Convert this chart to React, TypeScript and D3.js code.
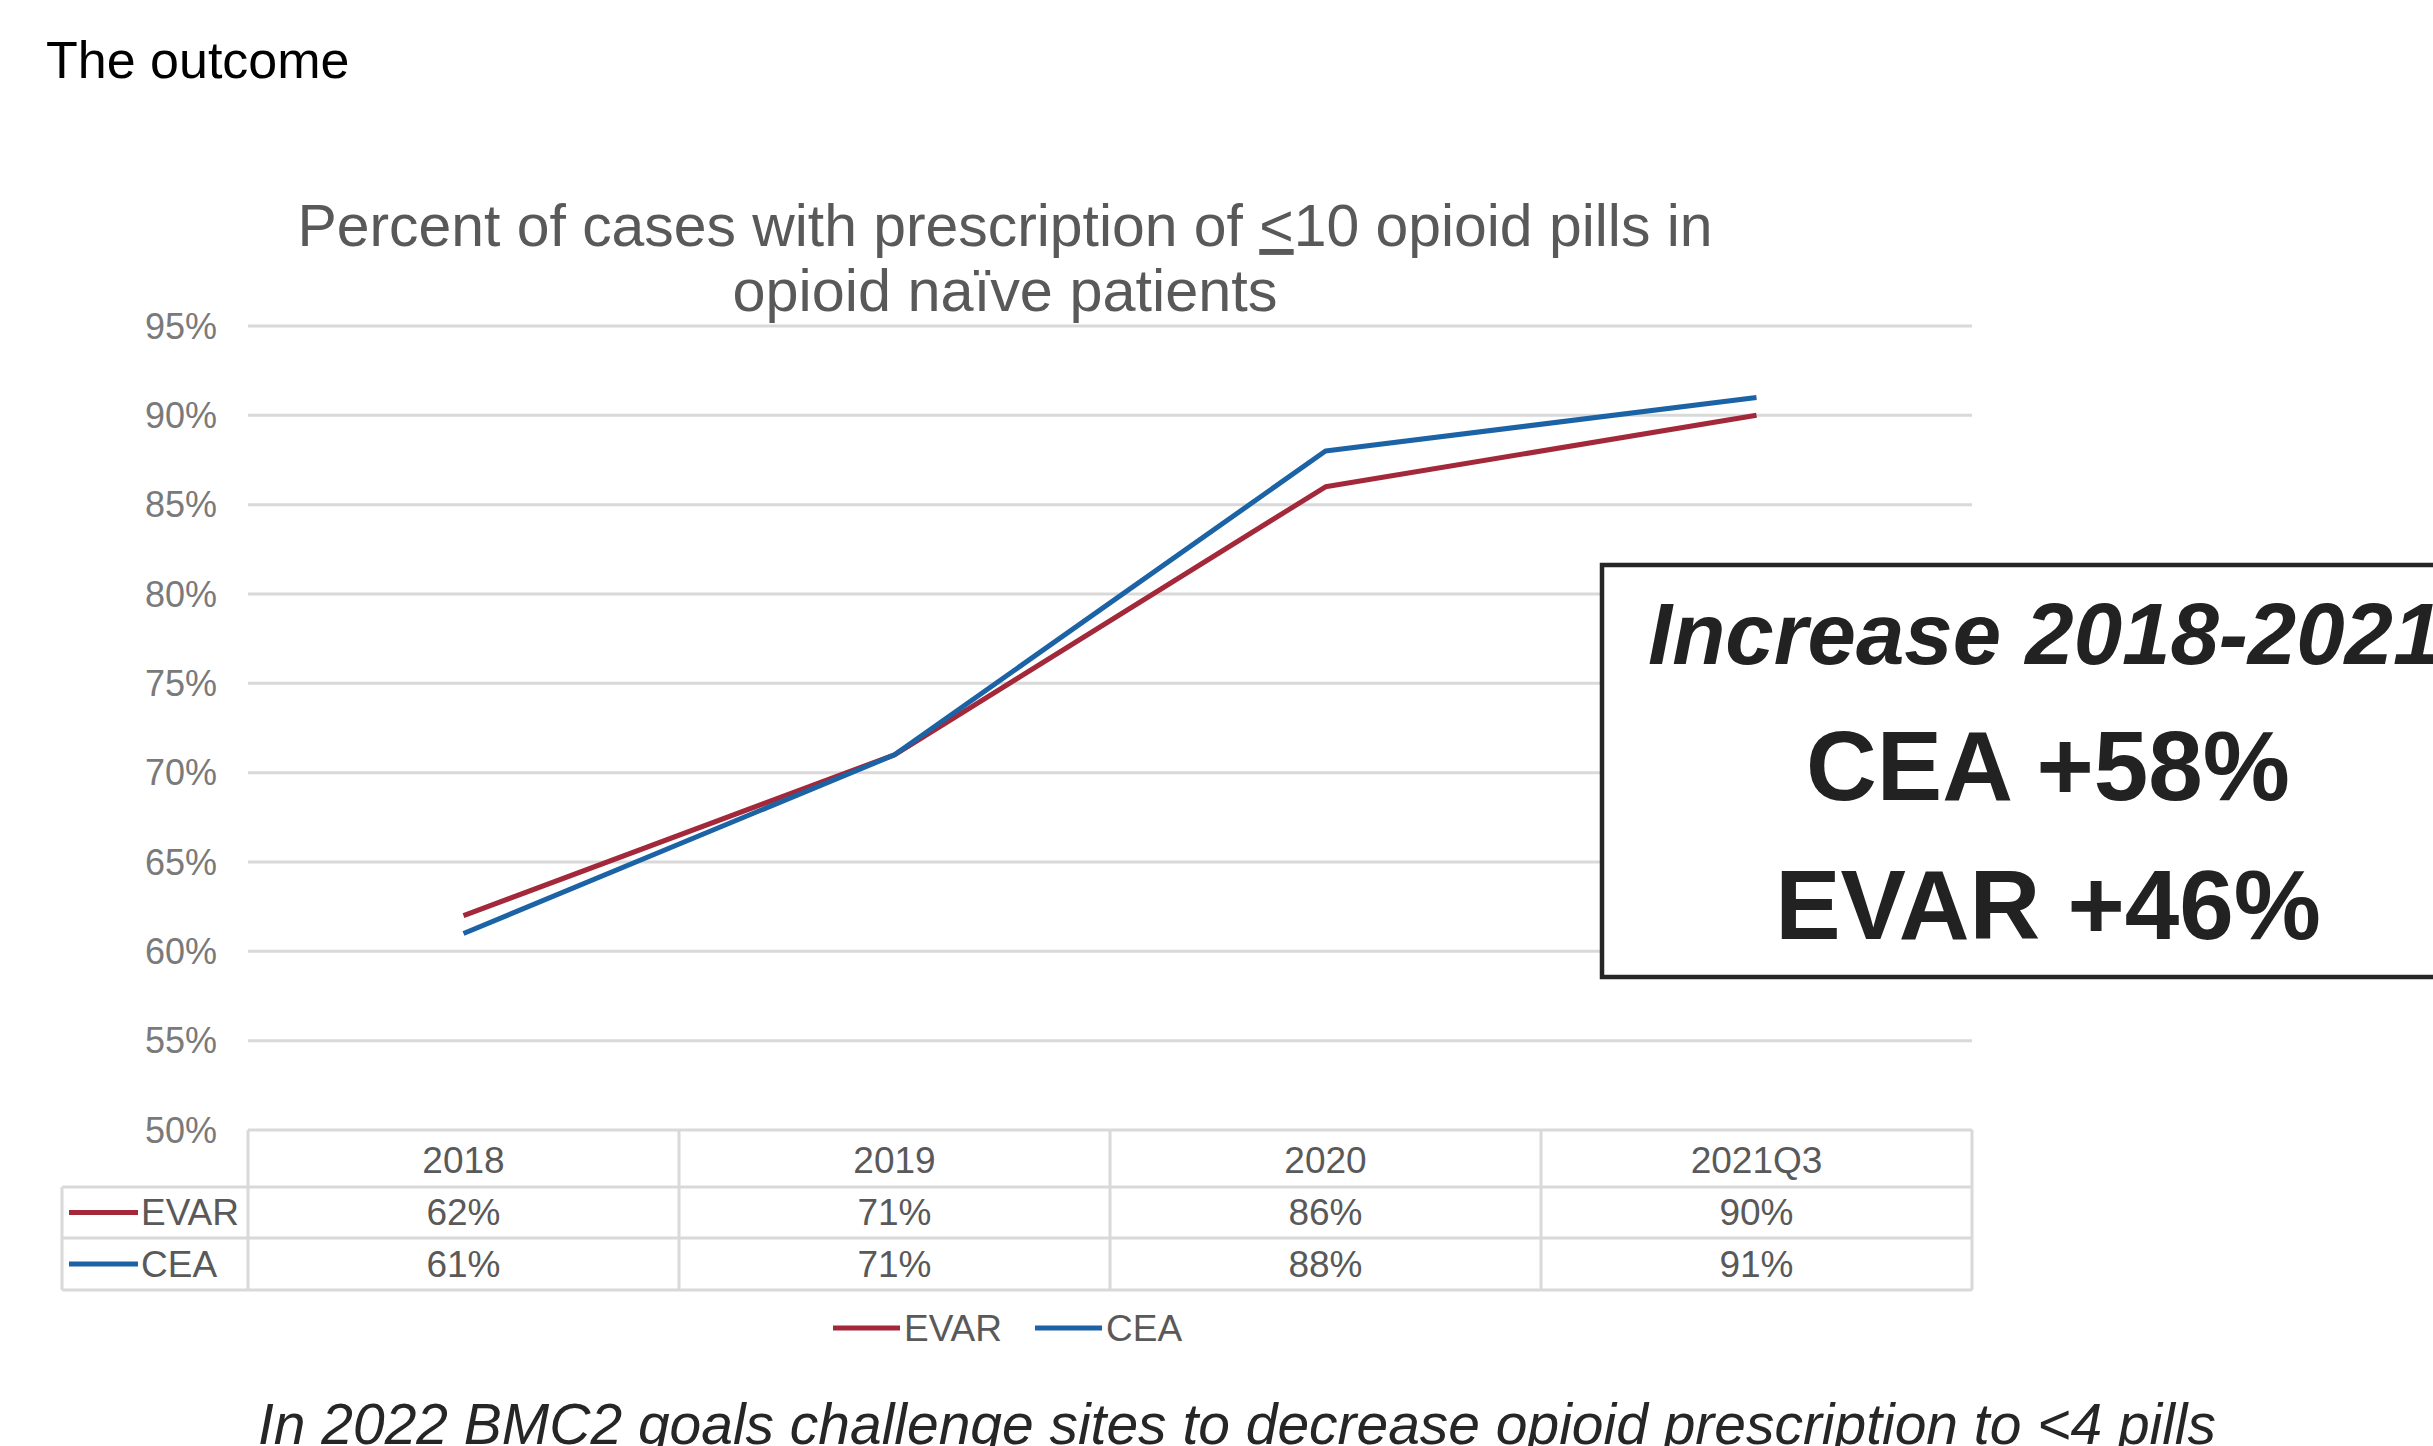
import React from "react";
import * as d3 from "d3";

const categories = ["2018", "2019", "2020", "2021Q3"];
const evarValues = [0.62, 0.71, 0.86, 0.90];
const ceaValues = [0.61, 0.71, 0.88, 0.91];
const yTicks = [0.5, 0.55, 0.6, 0.65, 0.7, 0.75, 0.8, 0.85, 0.9, 0.95];
const seriesNames = ["EVAR", "CEA"];
const boxLines = ["Increase 2018-2021", "CEA +58%", "EVAR +46%"];

const W = 2433;
const H = 1446;
const FONT = "'Liberation Sans', Arial, sans-serif";
const RED = "#A3283A";
const BLUE = "#1C63A6";
const GRID = "#d9d9d9";
const GRAYTEXT = "#595959";

export default function App() {
  const x = d3.scaleBand<string>().domain(categories).range([248, 1972]).padding(0);
  const y = d3.scaleLinear().domain([0.5, 0.95]).range([1130, 326]);
  const fmt = d3.format(".0%");
  const cx = (c: string) => (x(c) as number) + x.bandwidth() / 2;

  const line = d3
    .line<number>()
    .x((_, i) => cx(categories[i]))
    .y((v) => y(v));

  const series = [
    { name: seriesNames[0], values: evarValues, color: RED },
    { name: seriesNames[1], values: ceaValues, color: BLUE },
  ];

  const rowTop = y(0.5);
  const rowBounds = [rowTop, 1187, 1238, 1290];

  return (
    <svg
      width={W}
      height={H}
      style={{ position: "fixed", left: 0, top: 0, background: "#fff" }}
      fontFamily={FONT}
    >
      <rect x={0} y={0} width={W} height={H} fill="#fff" />
      <text x={46} y={78} fontSize={52} fill="#000">
        The outcome
      </text>

      {/* chart title */}
      <text x={1005} y={246} fontSize={59} fill={GRAYTEXT} textAnchor="middle" textLength={1415} lengthAdjust="spacingAndGlyphs">
        Percent of cases with prescription of <tspan textDecoration="underline">&lt;</tspan>10 opioid pills in
      </text>
      <text x={1005} y={311} fontSize={59} fill={GRAYTEXT} textAnchor="middle" textLength={545} lengthAdjust="spacingAndGlyphs">
        opioid naïve patients
      </text>

      {/* gridlines & y labels */}
      {yTicks.map((t) => (
        <g key={t}>
          <line x1={248} x2={1972} y1={y(t)} y2={y(t)} stroke={GRID} strokeWidth={3} />
          <text x={217} y={y(t)} dy="0.35em" fontSize={36} fill="#7a7a7a" textAnchor="end">
            {fmt(t)}
          </text>
        </g>
      ))}

      {/* data table */}
      <g stroke={GRID} strokeWidth={3}>
        {categories.map((c) => (
          <line key={c} x1={x(c) as number} x2={x(c) as number} y1={rowTop} y2={rowBounds[3]} />
        ))}
        <line x1={1972} x2={1972} y1={rowTop} y2={rowBounds[3]} />
        <line x1={62} x2={62} y1={rowBounds[1]} y2={rowBounds[3]} />
        <line x1={62} x2={1972} y1={rowBounds[1]} y2={rowBounds[1]} />
        <line x1={62} x2={1972} y1={rowBounds[2]} y2={rowBounds[2]} />
        <line x1={62} x2={1972} y1={rowBounds[3]} y2={rowBounds[3]} />
      </g>
      {categories.map((c) => (
        <text key={c} x={cx(c)} y={(rowBounds[0] + rowBounds[1]) / 2 + 2} dy="0.35em" fontSize={37} fill={GRAYTEXT} textAnchor="middle">
          {c}
        </text>
      ))}
      {series.map((s, si) => {
        const yc = (rowBounds[si + 1] + rowBounds[si + 2]) / 2;
        return (
          <g key={s.name}>
            <line x1={69} x2={138} y1={yc} y2={yc} stroke={s.color} strokeWidth={5} />
            <text x={141} y={yc} dy="0.35em" fontSize={37} fill={GRAYTEXT}>
              {s.name}
            </text>
            {s.values.map((v, i) => (
              <text key={i} x={cx(categories[i])} y={yc} dy="0.35em" fontSize={37} fill={GRAYTEXT} textAnchor="middle">
                {fmt(v)}
              </text>
            ))}
          </g>
        );
      })}

      {/* lines */}
      {series.map((s) => (
        <path key={s.name} d={line(s.values) as string} fill="none" stroke={s.color} strokeWidth={5} strokeLinejoin="round" />
      ))}

      {/* legend */}
      {series.map((s, i) => {
        const lx = i === 0 ? 833 : 1035;
        return (
          <g key={s.name}>
            <line x1={lx} x2={lx + 67} y1={1328} y2={1328} stroke={s.color} strokeWidth={5} />
            <text x={lx + 71} y={1328} dy="0.35em" fontSize={37} fill={GRAYTEXT}>
              {s.name}
            </text>
          </g>
        );
      })}

      {/* annotation box */}
      <rect x={1602} y={565} width={900} height={412} fill="#fff" stroke="#262626" strokeWidth={4.5} />
      <text x={1648} y={664} fontSize={87} fontWeight="bold" fontStyle="italic" fill="#222">
        {boxLines[0]}
      </text>
      <text x={2048} y={800} fontSize={98} fontWeight="bold" fill="#222" textAnchor="middle">
        {boxLines[1]}
      </text>
      <text x={2048} y={939} fontSize={98} fontWeight="bold" fill="#222" textAnchor="middle">
        {boxLines[2]}
      </text>

      {/* bottom note */}
      <text x={258} y={1444} fontSize={58} fontStyle="italic" fill="#262626" textLength={1958} lengthAdjust="spacingAndGlyphs">
        In 2022 BMC2 goals challenge sites to decrease opioid prescription to &lt;4 pills
      </text>
    </svg>
  );
}
